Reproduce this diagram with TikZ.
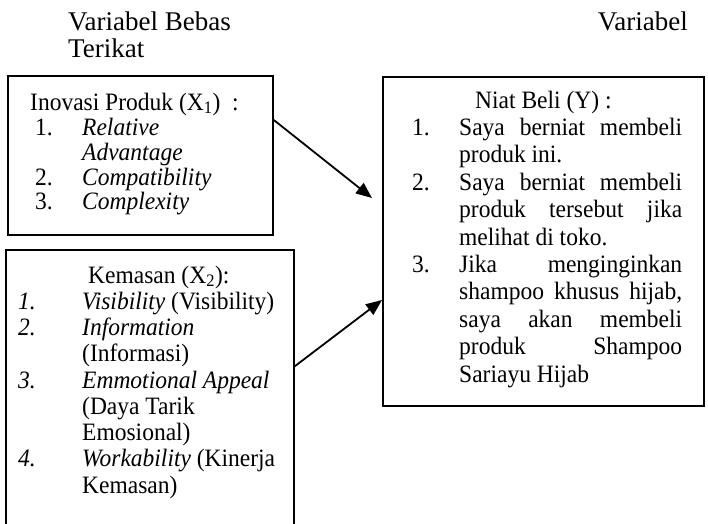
\documentclass[tikz,border=0pt]{standalone}
\usepackage{fontspec}
\setmainfont{Liberation Serif}
\newfontfamily\boxfont{Liberation Serif}[FakeStretch=0.94]
\usetikzlibrary{calc,arrows.meta}
\newcommand{\fsz}{\boxfont\fontsize{25}{25}\selectfont}
\newcommand{\hsz}{\fontsize{27}{27}\selectfont}
\newcommand{\jl}[1]{\makebox[223pt][s]{#1}}
\begin{document}
\begin{tikzpicture}[x=1pt,y=-1pt,
  txt/.style={anchor=base west, inner sep=0pt, font=\fsz},
  htxt/.style={inner sep=0pt, font=\hsz},
  boxst/.style={draw, line width=1.8pt, anchor=north west, inner sep=0pt},
  arr/.style={line width=1.8pt, -{Triangle[length=16pt,width=13pt]}}]
\useasboundingbox (0,0) rectangle (708,523);
% header
\node[htxt, anchor=base west] (h1) at (68,30) {Variabel Bebas};
\node[htxt, anchor=base east] (h2) at (688,30) {Variabel};
\node[htxt, anchor=base west] (h3) at (68,57) {Terikat};
% boxes
\node[boxst, minimum width=265pt, minimum height=159pt] (box1) at (7,75) {};
\node[boxst, minimum width=321pt, minimum height=329pt] (boxY) at (382,76) {};
\node[boxst, draw=none, minimum width=286pt, minimum height=273pt] (box2) at (6,250) {};
\draw[line width=1.8pt] (box2.south west) -- (box2.north west) -- (box2.north east) -- (box2.south east);
% box 1 text
\node[txt] (b1h) at (30,110) {Inovasi Produk (X\textsubscript{1})\ \ :};
\node[txt] (b1n1) at (35,135) {1.};
\node[txt] (b1t1) at (82,135) {\itshape Relative};
\node[txt] (b1t1b) at (82,160) {\itshape Advantage};
\node[txt] (b1n2) at (35,185) {2.};
\node[txt] (b1t2) at (82,185) {\itshape Compatibility};
\node[txt] (b1n3) at (35,209) {3.};
\node[txt] (b1t3) at (82,209) {\itshape Complexity};
% box 2 text
\node[txt] (b2h) at (88,283) {Kemasan (X\textsubscript{2}):};
\node[txt] (b2n1) at (18,309) {\itshape 1.};
\node[txt] (b2t1) at (82,309) {\textit{Visibility} (Visibility)};
\node[txt] (b2n2) at (18,335.5) {\itshape 2.};
\node[txt] (b2t2) at (82,335.5) {\textit{Information}};
\node[txt] (b2t2b) at (82,361.75) {(Informasi)};
\node[txt] (b2n3) at (18,388) {\itshape 3.};
\node[txt] (b2t3) at (82,388) {\textit{Emmotional Appeal}};
\node[txt] (b2t3b) at (82,414.25) {(Daya Tarik};
\node[txt] (b2t3c) at (82,440.5) {Emosional)};
\node[txt] (b2n4) at (18,466.75) {\itshape 4.};
\node[txt] (b2t4) at (82,466.75) {\textit{Workability} (Kinerja};
\node[txt] (b2t4b) at (82,493) {Kemasan)};
% box Y text
\node[txt] (byh) at (475,108) {Niat Beli (Y) :};
\node[txt] (byn1) at (412,135.4) {1.};
\node[txt] (byt1) at (459,135.4) {\jl{Saya berniat membeli}};
\node[txt] (byt1b) at (459,162.8) {produk ini.};
\node[txt] (byn2) at (412,190.2) {2.};
\node[txt] (byt2) at (459,190.2) {\jl{Saya berniat membeli}};
\node[txt] (byt2b) at (459,217.6) {\jl{produk tersebut jika}};
\node[txt] (byt2c) at (459,245) {melihat di toko.};
\node[txt] (byn3) at (412,272.4) {3.};
\node[txt] (byt3) at (459,272.4) {\jl{Jika menginginkan}};
\node[txt] (byt3b) at (459,299.8) {\jl{shampoo khusus hijab,}};
\node[txt] (byt3c) at (459,327.2) {\jl{saya akan membeli}};
\node[txt] (byt3d) at (459,354.6) {\jl{produk Shampoo}};
\node[txt] (byt3e) at (459,382) {Sariayu Hijab};
% arrows
\coordinate (a1s) at ($(box1.north east)+(0,45)$);
\coordinate (a1e) at ($(boxY.north west)+(-10,122)$);
\coordinate (a2s) at ($(box2.north east)+(0,117)$);
\coordinate (a2e) at ($(boxY.north west)+(0,224)$);
\draw[arr] (a1s) -- (a1e);
\draw[arr] (a2s) -- (a2e);
\end{tikzpicture}
\end{document}
